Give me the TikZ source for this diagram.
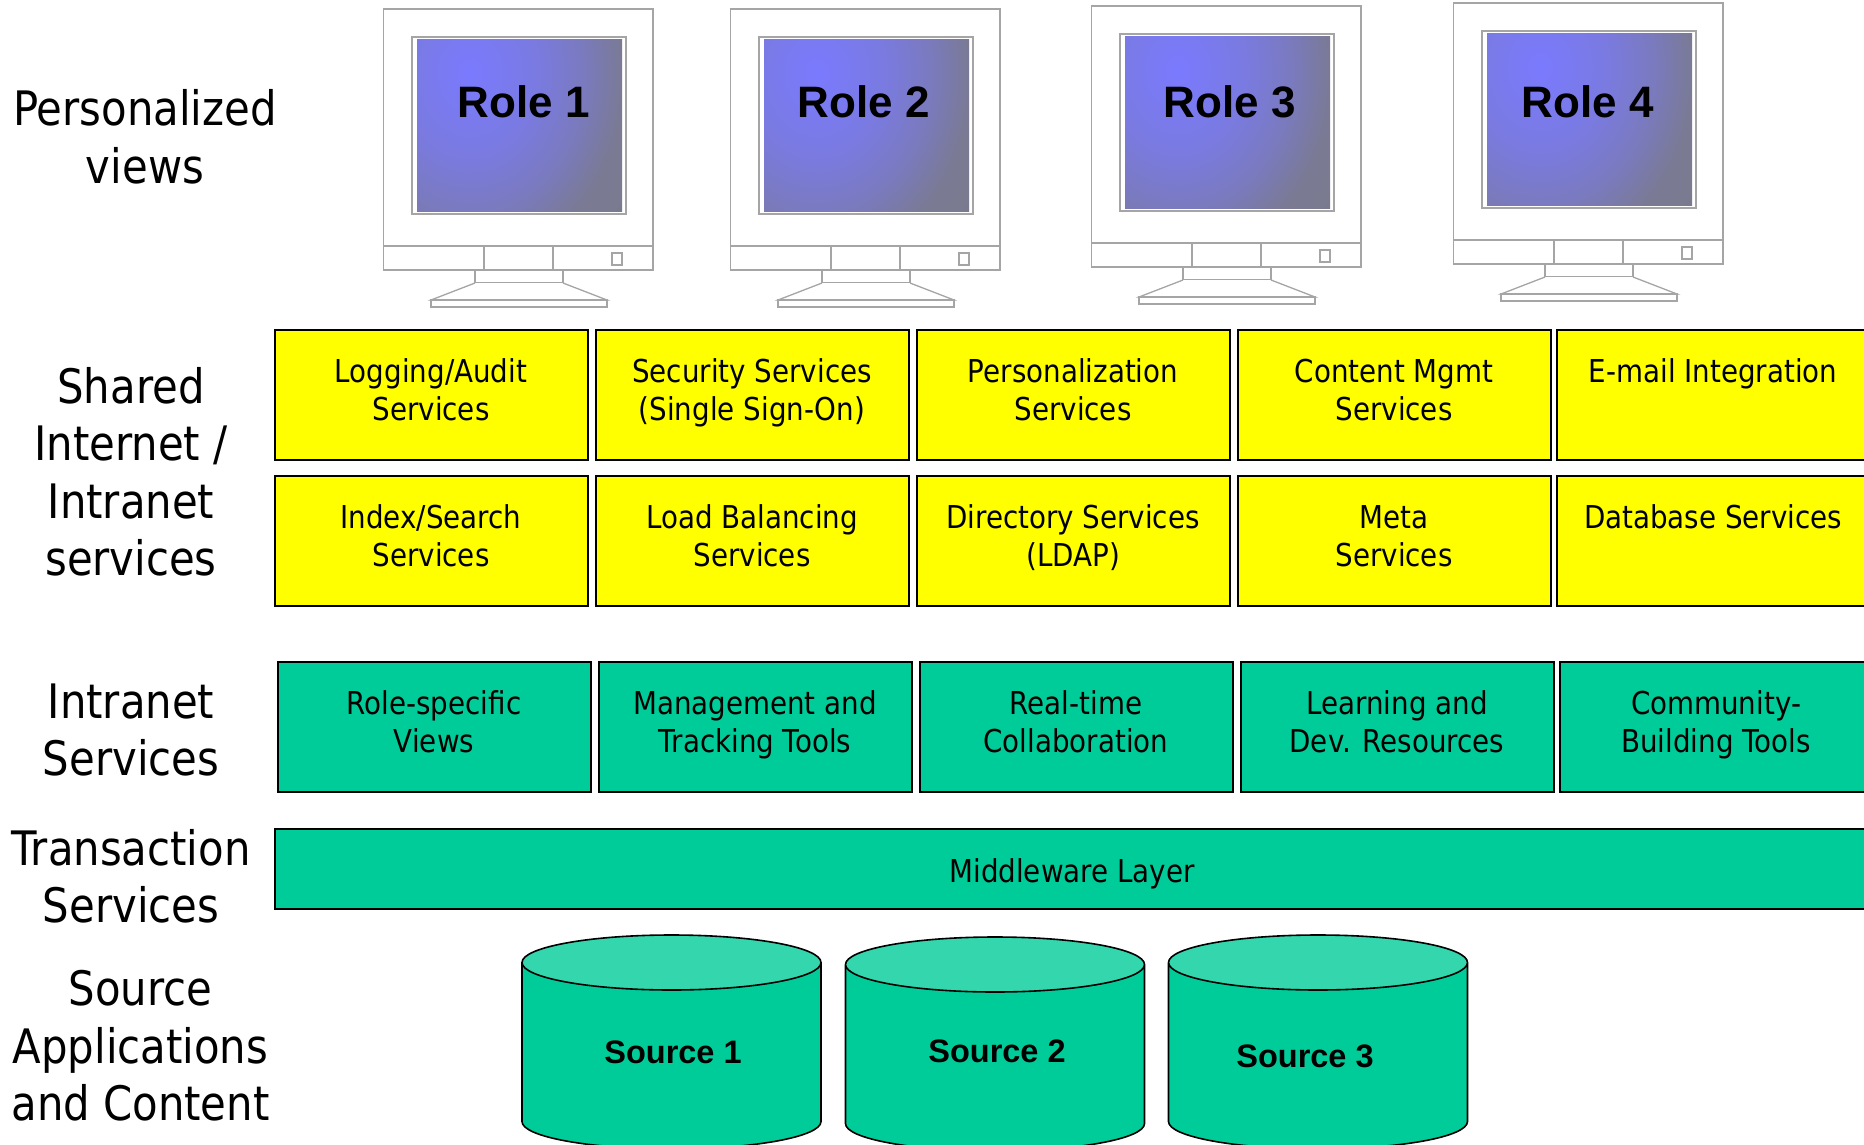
\documentclass[tikz,border=0pt]{standalone}
\usepackage{xcolor}
\usepackage{fontspec}
\usepackage{tikz}
\usetikzlibrary{shapes,shapes.geometric,positioning}
\setmainfont[FakeStretch=0.88]{DejaVu Sans}
\newfontfamily\rolefont{Liberation Sans}
\definecolor{svcyellow}{RGB}{255,255,0}
\definecolor{svcgreen}{RGB}{0,204,153}
\definecolor{topgreen}{RGB}{51,214,173}
\definecolor{framegray}{RGB}{165,165,165}
\pgfdeclareradialshading{screenglow}{\pgfpoint{0bp}{0bp}}{%
  rgb(0bp)=(0.478,0.478,1);
  rgb(33bp)=(0.478,0.478,0.88);
  rgb(55bp)=(0.478,0.478,0.75);
  rgb(75bp)=(0.478,0.478,0.58);
  rgb(100bp)=(0.478,0.478,0.55)}

\begin{document}
\begin{tikzpicture}[
    x=1pt, y=-1pt,
    box/.style={rectangle, draw=black, line width=2pt, outer sep=0pt, minimum width=313pt, minimum height=130pt, align=center, font=\fontsize{31.5}{38}\selectfont},
    liftedtext/.style={execute at end node={\rule[-10pt]{0pt}{10pt}}},
    yellowbox/.style={box, liftedtext, fill=svcyellow},
    greenbox/.style={box, liftedtext, fill=svcgreen},
    layerlabel/.style={align=center, font=\fontsize{47.5}{57.5}\selectfont},
    rolelabel/.style={font=\rolefont\bfseries\fontsize{44}{48}\selectfont},
    sourcelabel/.style={font=\rolefont\bfseries\fontsize{32.5}{38}\selectfont},
    source/.style={cylinder, anchor=shape center, shape border rotate=90, aspect=8.25, draw=black, line width=1.6pt, outer sep=0pt, minimum width=299pt, minimum height=214pt, cylinder uses custom fill, cylinder body fill=svcgreen, cylinder end fill=topgreen},
    monitorpart/.style={draw=framegray, line width=1.3pt, fill=white}
]
    \useasboundingbox (0,0) rectangle (1864,1144);
    \clip (0,0) rectangle (1864,1144);

    % Monitors
    \foreach \dx/\dy in {0/0, 347/0, 708/-3, 1070/-6} {
        \begin{scope}[shift={(\dx,\dy)}]
            \draw[monitorpart] (383.5,9) rectangle (653,270);
            \draw[monitorpart] (383.5,246) -- (653,246);
            \draw[monitorpart] (484,246) -- (484,270);
            \draw[monitorpart] (553,246) -- (553,270);
            \draw[monitorpart] (612,253) rectangle (622,265);
            \draw[monitorpart] (475,270) rectangle (563,283);
            \draw[monitorpart] (475,283) -- (431,300) -- (607,300) -- (563,283);
            \draw[monitorpart] (431,300) rectangle (607,307);
            \draw[monitorpart] (412,37) rectangle (626,214);
            \begin{scope}
                \clip (417,39) rectangle (622,211);
                \node[transform shape, xscale=2.05, yscale=2.5, inner sep=0pt] at (470,73) {\pgfuseshading{screenglow}};
            \end{scope}
        \end{scope}
    }

    % Role names
    \node[rolelabel] (role1) at (524,102) {Role 1};
    \node[rolelabel] (role2) at (864,102) {Role 2};
    \node[rolelabel] (role3) at (1230,102) {Role 3};
    \node[rolelabel] (role4) at (1588,102) {Role 4};

    % Layer names
    \node[layerlabel] (views) at (145,137) {Personalized\\views};
    \node[layerlabel] (shared) at (131,472) {Shared\\Internet /\\Intranet\\services};
    \node[layerlabel] (intranet) at (131,730) {Intranet\\Services};
    \node[layerlabel] (transaction) at (131,876.5) {Transaction\\Services};
    \node[layerlabel] (content) at (140.5,1046) {Source\\Applications\\and Content};

    % Shared services
    \node[yellowbox, anchor=north west] (logging) at (274.5,330) {Logging/Audit\\Services};
    \node[yellowbox, right=8pt of logging] (security) {Security Services\\(Single Sign-On)};
    \node[yellowbox, right=8pt of security] (personal) {Personalization\\Services};
    \node[yellowbox, right=8pt of personal] (mgmt) {Content Mgmt\\Services};
    \node[yellowbox, right=6pt of mgmt] (email) {E-mail Integration\\\mbox{}};
    \node[yellowbox, below=16pt of logging] (index) {Index/Search\\Services};
    \node[yellowbox, right=8pt of index] (balance) {Load Balancing\\Services};
    \node[yellowbox, right=8pt of balance] (directory) {Directory Services\\(LDAP)};
    \node[yellowbox, right=8pt of directory] (meta) {Meta\\Services};
    \node[yellowbox, right=6pt of meta] (database) {Database Services\\\mbox{}};

    % Intranet services
    \node[greenbox, anchor=north west] (rolespecific) at (277.5,661.5) {Role-specific\\Views};
    \node[greenbox, right=8pt of rolespecific] (tracking) {Management and\\Tracking Tools};
    \node[greenbox, right=8pt of tracking] (realtime) {Real-time\\Collaboration};
    \node[greenbox, right=8pt of realtime] (learning) {Learning and\\Dev. Resources};
    \node[greenbox, right=6pt of learning] (community) {Community-\\Building Tools};

    % Middleware
    \node[box, fill=svcgreen, anchor=north west, minimum width=1595pt, minimum height=80pt] (middleware) at (274.5,829) {\rule{0pt}{34pt}Middleware Layer};

    % Sources
    \node[source] (source1) at (671.5,1042) {};
    \node[source] (source2) at (995,1044) {};
    \node[source] (source3) at (1318,1042) {};
    \node[sourcelabel] (name1) at (673,1052) {Source 1};
    \node[sourcelabel] (name2) at (997,1051) {Source 2};
    \node[sourcelabel] (name3) at (1305,1056) {Source 3};
\end{tikzpicture}
\end{document}
